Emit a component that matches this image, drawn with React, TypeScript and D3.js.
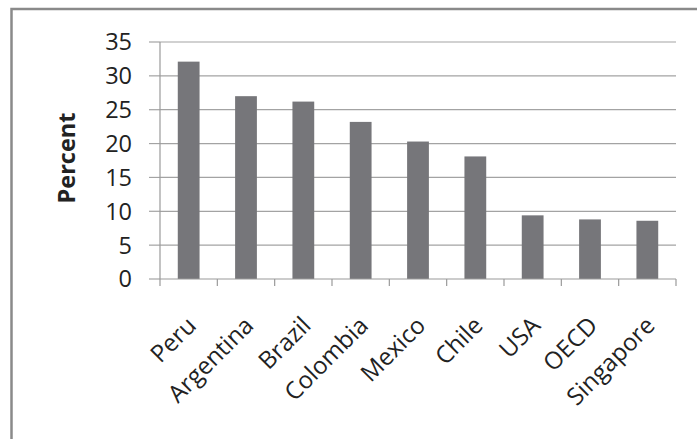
import React from "react";
import * as d3 from "d3";

const categories = ["Peru", "Argentina", "Brazil", "Colombia", "Mexico", "Chile", "USA", "OECD", "Singapore"];
const values = [32.1, 27.0, 26.2, 23.2, 20.3, 18.1, 9.4, 8.8, 8.6];
const yTicks = [0, 5, 10, 15, 20, 25, 30, 35];

export default function App() {
  const W = 697, H = 439;
  const left = 160, right = 676, top = 42, bottom = 279;
  const x = d3.scaleBand<string>().domain(categories).range([left, right]).paddingInner(0).paddingOuter(0);
  const y = d3.scaleLinear().domain([0, 35]).range([bottom, top]);
  const step = x.step();
  const bw = step * 0.38;
  const font = "'Open Sans', sans-serif";
  return (
    <svg width={W} height={H} style={{ position: "absolute", left: 0, top: 0, background: "#fff" }}>
      <rect x={11.5} y={9} width={720} height={460} fill="#fff" stroke="#8a8a8a" strokeWidth={2.5} />
      {yTicks.map((t) => (
        <g key={t}>
          {t > 0 && <line x1={left} x2={right} y1={y(t)} y2={y(t)} stroke="#a3a3a3" strokeWidth={1.2} />}
          <line x1={149} x2={left} y1={y(t)} y2={y(t)} stroke="#a3a3a3" strokeWidth={1.2} />
          <text x={132} y={y(t)} dy="0.36em" textAnchor="end" fontFamily={font} fontSize={23.5} fill="#222">
            {t}
          </text>
        </g>
      ))}
      {categories.map((c, i) => (
        <rect key={c} x={x(c)! + step / 2 - bw / 2} y={y(values[i])} width={bw} height={y(0) - y(values[i])} fill="#76767a" />
      ))}
      <line x1={left} x2={left} y1={top} y2={bottom} stroke="#9a9a9a" strokeWidth={1.2} />
      <line x1={left} x2={right} y1={bottom} y2={bottom} stroke="#9a9a9a" strokeWidth={1.2} />
      {d3.range(categories.length + 1).map((i) => (
        <line key={i} x1={left + i * step} x2={left + i * step} y1={bottom} y2={bottom + 7} stroke="#9a9a9a" strokeWidth={1.2} />
      ))}
      {categories.map((c) => {
        const cx = x(c)! + step / 2 + 9;
        const cy = 327;
        return (
          <text key={c} transform={`translate(${cx},${cy}) rotate(-45)`} textAnchor="end" fontFamily={font} fontSize={24} fill="#222">
            {c}
          </text>
        );
      })}
      <text transform={`translate(75,158) rotate(-90)`} textAnchor="middle" fontFamily={font} fontSize={23.5} fontWeight="bold" fill="#222">
        Percent
      </text>
    </svg>
  );
}
